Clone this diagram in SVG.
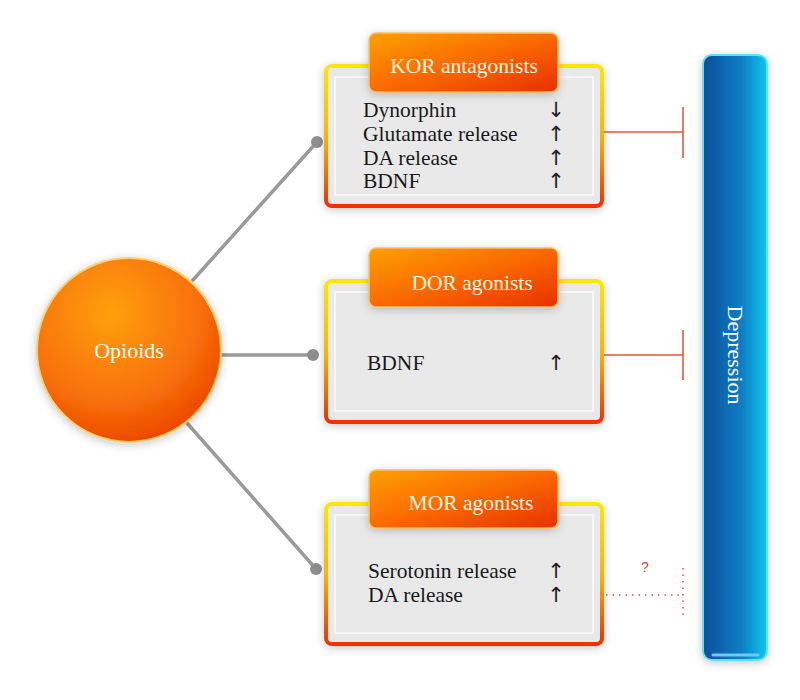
<svg xmlns="http://www.w3.org/2000/svg" width="800" height="700" viewBox="0 0 800 700">
<defs>
<style>
.t{font-family:"Liberation Serif","DejaVu Serif",serif;font-size:21.5px;fill:#1a1a1a}
.h{font-family:"Liberation Serif","DejaVu Serif",serif;font-size:21.5px;fill:#fff6e0;text-anchor:middle}
.ar{font-family:"DejaVu Sans",sans-serif;font-size:21px;fill:#222;text-anchor:middle}
.conn{stroke:#9a9a9a;stroke-width:3.5;stroke-linecap:round}
.dot{fill:#8e8e8e}
.inh{stroke:#e05a40;stroke-width:1.6;fill:none}
.inhd{stroke:#e05a40;stroke-width:1.6;fill:none;stroke-dasharray:1.5 5}
.box{fill:#e9e9e9;stroke:url(#frame);stroke-width:4}
.panel{fill:none;stroke:#fbfbfb;stroke-width:1.5}
</style>
<linearGradient id="frame" x1="0" y1="0" x2="0" y2="1">
<stop offset="0" stop-color="#ffe600"/>
<stop offset="0.5" stop-color="#ffb400"/>
<stop offset="1" stop-color="#f03000"/>
</linearGradient>
<linearGradient id="hdr" x1="0" y1="0" x2="1" y2="1">
<stop offset="0" stop-color="#ffa000"/>
<stop offset="0.5" stop-color="#fa6a00"/>
<stop offset="1" stop-color="#e83000"/>
</linearGradient>
<radialGradient id="ball" cx="0.4" cy="0.3" r="0.8">
<stop offset="0" stop-color="#ffa010"/>
<stop offset="0.6" stop-color="#f87008"/>
<stop offset="1" stop-color="#e83a00"/>
</radialGradient>
<linearGradient id="bar" x1="0" y1="0" x2="1" y2="0">
<stop offset="0" stop-color="#0a4e9a"/>
<stop offset="0.6" stop-color="#0a7ec4"/>
<stop offset="1" stop-color="#12c8f0"/>
</linearGradient>
<filter id="sh" x="-20%" y="-20%" width="140%" height="140%">
<feDropShadow dx="0" dy="2" stdDeviation="4" flood-color="#000" flood-opacity="0.22"/>
</filter>
</defs>
<rect width="800" height="700" fill="#ffffff"/>

<g id="connectors">
<line class="conn" x1="193" y1="280" x2="317" y2="142"/>
<circle class="dot" cx="317" cy="142" r="6"/>
<line class="conn" x1="222" y1="355" x2="313" y2="355"/>
<circle class="dot" cx="313" cy="355" r="6"/>
<line class="conn" x1="187" y1="423" x2="316" y2="569"/>
<circle class="dot" cx="316" cy="569" r="6"/>
<path class="inh" d="M603 132 H683 M683 107 V158"/>
<path class="inh" d="M603 355 H683 M683 330 V380"/>
<path class="inhd" d="M606 595 H683 M683 568 V620"/>
<text x="645" y="572" style="font-family:'Liberation Sans',sans-serif;font-size:14px;fill:#d84a30;text-anchor:middle">?</text>
</g>

<g id="opioids">
<circle cx="129" cy="350" r="92" fill="url(#ball)" stroke="#ffd070" stroke-width="2" filter="url(#sh)"/>
<text x="129" y="358" class="h" style="font-size:22px;fill:#fff">Opioids</text>
</g>

<g id="kor">
<rect class="box" x="326" y="66" width="276" height="140" rx="6" filter="url(#sh)"/>
<rect class="panel" x="335" y="77" width="258" height="118"/>
<rect x="369" y="33" width="189" height="59" rx="7" fill="url(#hdr)" stroke="#ffc060" stroke-width="1.5" filter="url(#sh)"/>
<text class="h" x="464" y="73">KOR antagonists</text>
<text class="t" x="363" y="117">Dynorphin</text>
<text class="t" x="363" y="141">Glutamate release</text>
<text class="t" x="363" y="165">DA release</text>
<text class="t" x="363" y="188">BDNF</text>
<text class="ar" x="556" y="117">↓</text>
<text class="ar" x="556" y="141">↑</text>
<text class="ar" x="556" y="165">↑</text>
<text class="ar" x="556" y="188">↑</text>
</g>

<g id="dor">
<rect class="box" x="326" y="281" width="276" height="141" rx="6" filter="url(#sh)"/>
<rect class="panel" x="335" y="292" width="258" height="119"/>
<rect x="369" y="248" width="189" height="59" rx="7" fill="url(#hdr)" stroke="#ffc060" stroke-width="1.5" filter="url(#sh)"/>
<text class="h" x="472" y="290">DOR agonists</text>
<text class="t" x="367" y="370">BDNF</text>
<text class="ar" x="556" y="370">↑</text>
</g>

<g id="mor">
<rect class="box" x="326" y="504" width="276" height="140" rx="6" filter="url(#sh)"/>
<rect class="panel" x="335" y="515" width="258" height="118"/>
<rect x="369" y="470" width="189" height="58" rx="7" fill="url(#hdr)" stroke="#ffc060" stroke-width="1.5" filter="url(#sh)"/>
<text class="h" x="471" y="510">MOR agonists</text>
<text class="t" x="368" y="578">Serotonin release</text>
<text class="t" x="368" y="602">DA release</text>
<text class="ar" x="556" y="578">↑</text>
<text class="ar" x="556" y="602">↑</text>
</g>

<g id="depression">
<rect x="703" y="55" width="64" height="605" rx="9" fill="url(#bar)" stroke="#5ee0ff" stroke-width="2" filter="url(#sh)"/>
<line x1="713" y1="655" x2="758" y2="655" stroke="#6ec8f0" stroke-width="3" stroke-linecap="round"/>
<text transform="translate(728,355) rotate(90)" class="h" style="font-size:22px;fill:#fff">Depression</text>
</g>
</svg>
